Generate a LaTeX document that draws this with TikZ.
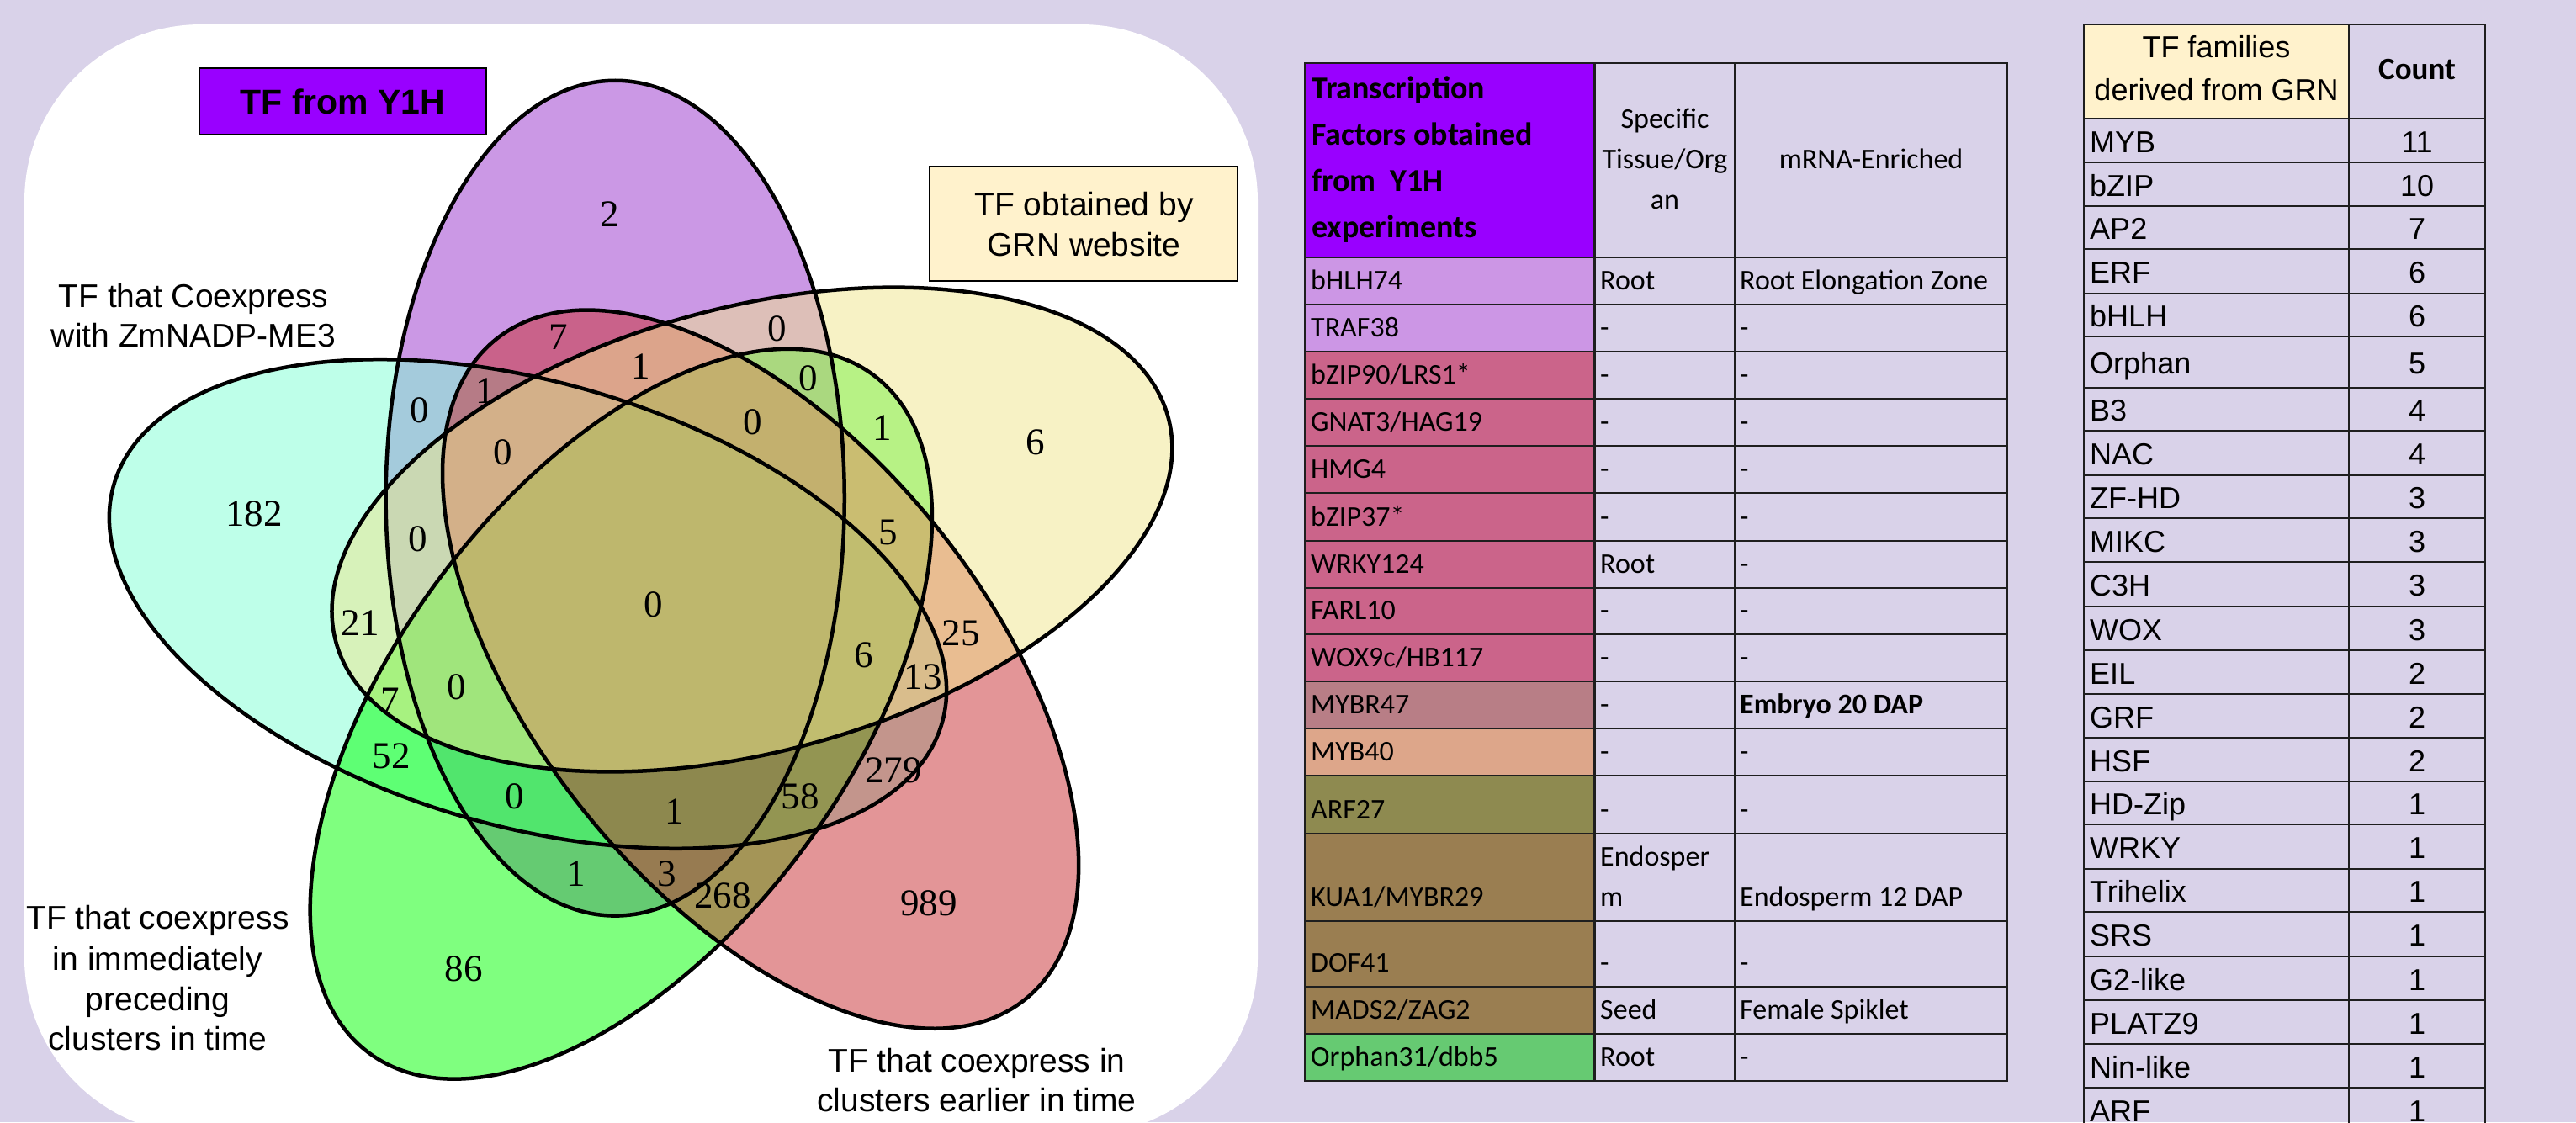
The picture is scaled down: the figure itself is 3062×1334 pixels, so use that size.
\documentclass[tikz,border=0pt]{standalone}
\usepackage{fontspec}
\setmainfont{Liberation Sans}
\newfontfamily\vennserif{Liberation Serif}
\newfontfamily\calfont{Carlito}
\definecolor{bgl}{RGB}{217,210,233}
\definecolor{vpur}{RGB}{153,50,204}
\definecolor{vcya}{RGB}{127,255,212}
\definecolor{vgre}{RGB}{0,255,0}
\definecolor{vred}{RGB}{201,45,49}
\definecolor{vyel}{RGB}{240,230,140}
\definecolor{ypur}{RGB}{153,0,255}
\definecolor{ycream}{RGB}{255,242,204}
\definecolor{tpur}{RGB}{204,150,229}
\definecolor{tpink}{RGB}{203,100,138}
\definecolor{tmauve}{RGB}{184,126,134}
\definecolor{tsalmon}{RGB}{221,166,138}
\definecolor{tolive}{RGB}{142,138,80}
\definecolor{tbrown}{RGB}{154,126,81}
\definecolor{tgreen}{RGB}{102,202,114}
\definecolor{tline}{RGB}{30,30,30}
\tikzset{
  vlab/.style={font=\fontsize{39}{47}\selectfont, text height=28pt, text depth=0pt, inner sep=0pt},
  vnumber/.style={font=\vennserif\fontsize{45}{45}\selectfont, text height=30.2pt, text depth=0pt, inner sep=0pt},
  tcell/.style={font=\calfont\fontsize{34}{40}\selectfont, text height=21.9pt, text depth=0pt, inner sep=0pt, anchor=west},
  thead/.style={font=\calfont\bfseries\fontsize{38}{44}\selectfont, text height=24.5pt, text depth=0pt, inner sep=0pt, anchor=west},
  fcell/.style={font=\fontsize{36}{42}\selectfont, text height=25.8pt, text depth=0pt, inner sep=0pt},
  tline/.style={draw=tline, line width=2.5pt},
  vennfill/.style={fill=#1, fill opacity=0.5},
  vennline/.style={draw=black, line width=4.5pt}
}
\newcommand{\tabrow}[7]{%
  \fill[#4] (1551,#2) rectangle (1895.5,#3);
  \node[tcell] (ta#1) at (1558,#3-28.5) {#5};
  \node[tcell] (tb#1) at (1902,#3-28.5) {#6};
  \node[tcell] (tc#1) at (2068,#3-28.5) {#7};}
\newcommand{\famrow}[5]{%
  \node[fcell, anchor=west] (fa#1) at (2484,{(#2+#3)/2+1.5}) {#4};
  \node[fcell] (fb#1) at (2873,{(#2+#3)/2+1.5}) {#5};
  \draw[tline] (2477,#3) -- (2954,#3);}
\begin{document}
\begin{tikzpicture}[x=1pt,y=-1pt]
\useasboundingbox (0,0) rectangle (3062,1334);
\fill[bgl] (0,0) rectangle (3062,1334);
\begin{scope}
  \clip (0,0) rectangle (3062,1334);
  \fill[white, rounded corners=210pt] (29,29) rectangle (1495,1349);
\end{scope}

% ---------------- Venn ellipses
\begin{scope}[shift={(779,717)}, xscale=1.017, yscale=0.983]
  \foreach \cx/\cy/\ang/\col in {-47/-127/90/vpur, -149/1/163/vcya, -40/134/55/vgre, 123/80/127/vred, 113/-89/16/vyel}
    \fill[vennfill=\col, shift={(\cx,\cy)}, rotate=\ang] (0,0) ellipse [x radius=505, y radius=268];
  \foreach \cx/\cy/\ang in {-47/-127/90, -149/1/163, -40/134/55, 123/80/127, 113/-89/16}
    \draw[vennline, shift={(\cx,\cy)}, rotate=\ang] (0,0) ellipse [x radius=505, y radius=268];
\end{scope}

% ---------------- Venn numbers
\node[vnumber] (n01) at (725,254) {2};
\node[vnumber] (n02) at (664,400) {7};
\node[vnumber] (n03) at (577,464) {1};
\node[vnumber] (n04) at (499,487) {0};
\node[vnumber] (n05) at (598,537) {0};
\node[vnumber] (n06) at (302,610) {182};
\node[vnumber] (n07) at (497,640) {0};
\node[vnumber] (n08) at (428,740) {21};
\node[vnumber] (n09) at (762,435) {1};
\node[vnumber] (n10) at (924,390) {0};
\node[vnumber] (n11) at (961,449) {0};
\node[vnumber] (n12) at (895,501) {0};
\node[vnumber] (n13) at (1049,508) {1};
\node[vnumber] (n14) at (1231,525) {6};
\node[vnumber] (n15) at (1056,632) {5};
\node[vnumber] (n16) at (777,718) {0};
\node[vnumber] (n17) at (464,832) {7};
\node[vnumber] (n18) at (543,816) {0};
\node[vnumber] (n19) at (465,898) {52};
\node[vnumber] (n20) at (612,946) {0};
\node[vnumber] (n21) at (685,1038) {1};
\node[vnumber] (n22) at (551,1151) {86};
\node[vnumber] (n23) at (1142,752) {25};
\node[vnumber] (n24) at (1027,778) {6};
\node[vnumber] (n25) at (1097,804) {13};
\node[vnumber] (n26) at (1062,915) {279};
\node[vnumber] (n27) at (951,946) {58};
\node[vnumber] (n28) at (802,964) {1};
\node[vnumber] (n29) at (793,1038) {3};
\node[vnumber] (n30) at (859,1064) {268};
\node[vnumber] (n31) at (1104,1073) {989};

% ---------------- Venn category labels
\node[draw=black, line width=2.5pt, fill=ypur, minimum width=341pt, minimum height=79pt, inner sep=0pt] (y1hbox) at (407.5,120.5) {};
\node[vlab, font=\bfseries\fontsize{41}{47}\selectfont, text height=29.4pt] (y1htxt) at (407.5,121) {TF from Y1H};
\node[draw=black, line width=2.5pt, fill=ycream, minimum width=366pt, minimum height=136pt, inner sep=0pt] (grnbox) at (1288,266) {};
\node[vlab] (grn1) at (1288.5,242) {TF obtained by};
\node[vlab] (grn2) at (1288.5,290) {GRN website};
\node[vlab] (coe1) at (230,351) {TF that Coexpress};
\node[vlab] (coe2) at (230,398.5) {with ZmNADP-ME3};
\node[vlab] (pre1) at (187.5,1090.5) {TF that coexpress};
\node[vlab] (pre2) at (187.5,1139) {in immediately};
\node[vlab] (pre3) at (187.5,1187) {preceding};
\node[vlab] (pre4) at (187.5,1234) {clusters in time};
\node[vlab] (ear1) at (1161,1260) {TF that coexpress in};
\node[vlab] (ear2) at (1161,1307.5) {clusters earlier in time};

% ---------------- Table 1
\fill[ypur] (1551,75) rectangle (1895.5,306);
\node[thead] (h1) at (1559,105) {Transcription};
\node[thead] (h2) at (1559,160) {Factors obtained};
\node[thead] (h3) at (1559,215) {from\ \ Y1H};
\node[thead] (h4) at (1559,270) {experiments};
\node[tcell, anchor=center] (h5) at (1979,142) {Specific};
\node[tcell, anchor=center] (h6) at (1979,190) {Tissue/Org};
\node[tcell, anchor=center] (h7) at (1979,238) {an};
\node[tcell, anchor=center] (h8) at (2224,190) {mRNA-Enriched};
\tabrow{01}{306}{362}{tpur}{bHLH74}{Root}{Root Elongation Zone}
\tabrow{02}{362}{418}{tpur}{TRAF38}{-}{-}
\tabrow{03}{418}{474}{tpink}{bZIP90/LRS1*}{-}{-}
\tabrow{04}{474}{530}{tpink}{GNAT3/HAG19}{-}{-}
\tabrow{05}{530}{586}{tpink}{HMG4}{-}{-}
\tabrow{06}{586}{643}{tpink}{bZIP37*}{-}{-}
\tabrow{07}{643}{699}{tpink}{WRKY124}{Root}{-}
\tabrow{08}{699}{754}{tpink}{FARL10}{-}{-}
\tabrow{09}{754}{810}{tpink}{WOX9c/HB117}{-}{-}
\tabrow{10}{810}{866}{tmauve}{MYBR47}{-}{\textbf{Embryo 20 DAP}}
\tabrow{11}{866}{922}{tsalmon}{MYB40}{-}{-}
\tabrow{12}{922}{991}{tolive}{ARF27}{-}{-}
\fill[tbrown] (1551,991) rectangle (1895.5,1095);
\node[tcell] (ta13) at (1558,1066.5) {KUA1/MYBR29};
\node[tcell] (tb13a) at (1902,1019) {Endosper};
\node[tcell] (tb13b) at (1902,1066.5) {m};
\node[tcell] (tc13) at (2068,1066.5) {Endosperm 12 DAP};
\tabrow{14}{1095}{1173}{tbrown}{DOF41}{-}{-}
\tabrow{15}{1173}{1229}{tbrown}{MADS2/ZAG2}{Seed}{Female Spiklet}
\tabrow{16}{1229}{1285}{tgreen}{Orphan31/dbb5}{Root}{-}
\draw[tline] (1551,75) rectangle (2386,1285);
\draw[tline] (1895.5,75) -- (1895.5,1285);
\draw[tline] (2062,75) -- (2062,1285);
\foreach \yy in {306,362,418,474,530,586,643,699,754,810,866,922,991,1095,1173,1229}
  \draw[tline] (1551,\yy) -- (2386,\yy);

% ---------------- Table 2
\fill[ycream] (2477,29) rectangle (2792,141);
\node[fcell] (g1) at (2634.5,56) {TF families};
\node[fcell] (g2) at (2634.5,107) {derived from GRN};
\node[fcell, font=\calfont\bfseries\fontsize{37}{42}\selectfont, text height=23.8pt] (g3) at (2873,83) {Count};
\draw[tline] (2477,141) -- (2954,141);
\famrow{01}{141}{193}{MYB}{11}
\famrow{02}{193}{245}{bZIP}{10}
\famrow{03}{245}{296}{AP2}{7}
\famrow{04}{296}{349}{ERF}{6}
\famrow{05}{349}{400}{bHLH}{6}
\famrow{06}{400}{461}{Orphan}{5}
\famrow{07}{461}{512}{B3}{4}
\famrow{08}{512}{565}{NAC}{4}
\famrow{09}{565}{616}{ZF-HD}{3}
\famrow{10}{616}{668}{MIKC}{3}
\famrow{11}{668}{721}{C3H}{3}
\famrow{12}{721}{773}{WOX}{3}
\famrow{13}{773}{825}{EIL}{2}
\famrow{14}{825}{877}{GRF}{2}
\famrow{15}{877}{929}{HSF}{2}
\famrow{16}{929}{980}{HD-Zip}{1}
\famrow{17}{980}{1033}{WRKY}{1}
\famrow{18}{1033}{1084}{Trihelix}{1}
\famrow{19}{1084}{1137}{SRS}{1}
\famrow{20}{1137}{1189}{G2-like}{1}
\famrow{21}{1189}{1241}{PLATZ9}{1}
\famrow{22}{1241}{1293}{Nin-like}{1}
\famrow{23}{1293}{1345}{ARF}{1}
\draw[tline] (2477,29) -- (2954,29);
\draw[tline] (2477,29) -- (2477,1345);
\draw[tline] (2792,29) -- (2792,1345);
\draw[tline] (2954,29) -- (2954,1345);
\end{tikzpicture}
\end{document}
